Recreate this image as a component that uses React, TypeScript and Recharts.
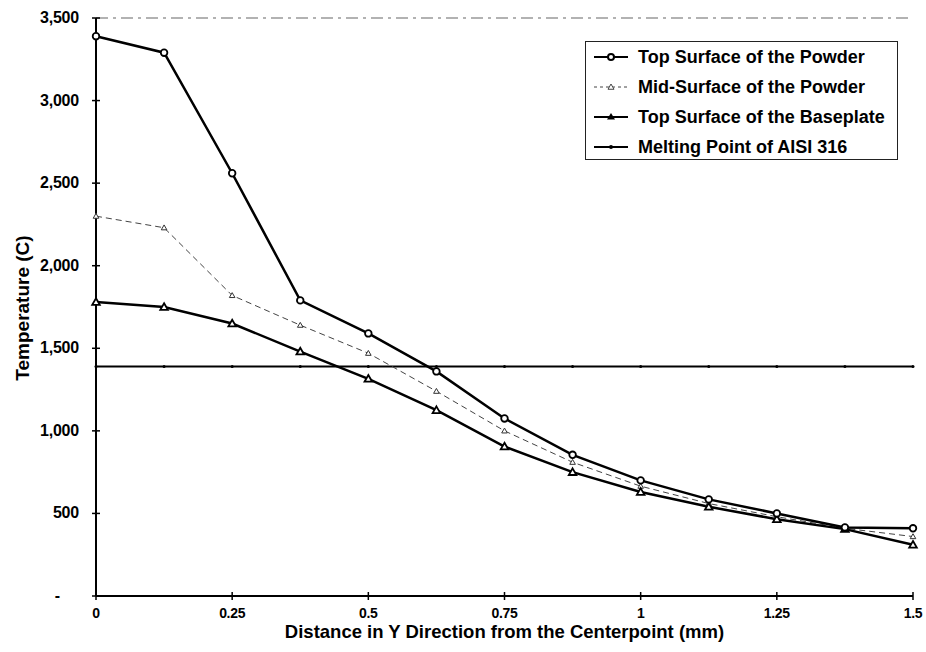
import { Label, Line, LineChart, ReferenceLine, XAxis, YAxis } from 'recharts';

const distance = [0, 0.125, 0.25, 0.375, 0.5, 0.625, 0.75, 0.875, 1, 1.125, 1.25, 1.375, 1.5];
const topPowder = [3390, 3290, 2560, 1790, 1590, 1360, 1075, 855, 700, 585, 500, 415, 410];
const midPowder = [2300, 2230, 1820, 1640, 1470, 1240, 1000, 810, 665, 560, 480, 410, 360];
const baseplate = [1780, 1750, 1650, 1480, 1315, 1125, 905, 750, 630, 540, 465, 405, 310];
const meltingPoint = [1390, 1390, 1390, 1390, 1390, 1390, 1390, 1390, 1390, 1390, 1390, 1390, 1390];

const xTicks = [0, 0.25, 0.5, 0.75, 1, 1.25, 1.5];
const yTicks = [0, 500, 1000, 1500, 2000, 2500, 3000, 3500];

const data = distance.map((d, i) => ({
    d,
    top: topPowder[i],
    mid: midPowder[i],
    base: baseplate[i],
    melt: meltingPoint[i],
}));

const FONT = '"Liberation Sans", Arial, sans-serif';

const YTick = (props: any) => {
    const { x, y, payload } = props;
    const v = payload.value;
    return (
        <g>
            <line x1={x - 4} x2={x + 4} y1={y} y2={y} stroke="#000" strokeWidth={1.5} />
            <text
                x={v === 0 ? x - 36 : x - 17}
                y={y}
                dy={5}
                textAnchor="end"
                fontFamily={FONT}
                fontWeight="bold"
                fontSize={16}
                letterSpacing={-0.2}
                fill="#000"
            >
                {v === 0 ? '-' : v.toLocaleString('en-US')}
            </text>
        </g>
    );
};

const XTick = (props: any) => {
    const { x, y, payload } = props;
    return (
        <g>
            <line x1={x} x2={x} y1={y - 4} y2={y + 4} stroke="#000" strokeWidth={1.5} />
            <text
                x={x}
                y={y}
                dy={22}
                textAnchor="middle"
                fontFamily={FONT}
                fontWeight="bold"
                fontSize={14}
                letterSpacing={-0.3}
                fill="#000"
            >
                {payload.value}
            </text>
        </g>
    );
};

const Circle = (props: any) => {
    const { cx, cy } = props;
    return <circle cx={cx} cy={cy} r={3.3} fill="#fff" stroke="#000" strokeWidth={1.8} />;
};

const Tri = ({ cx, cy, s, w, color }: any) => (
    <path
        d={`M${cx},${cy - s} L${cx + s},${cy + s * 0.75} L${cx - s},${cy + s * 0.75} Z`}
        fill="#fff"
        stroke={color}
        strokeWidth={w}
    />
);

const BaseMarker = (props: any) => <Tri cx={props.cx} cy={props.cy} s={3.8} w={1.8} color="#000" />;
const MidMarker = (props: any) => <Tri cx={props.cx} cy={props.cy} s={2.8} w={1} color="#333" />;
const Dot = (props: any) => <circle cx={props.cx} cy={props.cy} r={1.5} fill="#000" />;

const legendItems = [
    { name: 'Top Surface of the Powder', kind: 'circle' },
    { name: 'Mid-Surface of the Powder', kind: 'mid' },
    { name: 'Top Surface of the Baseplate', kind: 'tri' },
    { name: 'Melting Point of AISI 316', kind: 'dot' },
];

const LegendIcon = ({ kind }: { kind: string }) => {
    const dashed = kind === 'mid';
    return (
        <svg width={36} height={14}>
            <line
                x1={1}
                x2={35}
                y1={7}
                y2={7}
                stroke={dashed ? '#444' : '#000'}
                strokeWidth={dashed ? 1 : 2}
                strokeDasharray={dashed ? '3 3' : undefined}
            />
            {kind === 'circle' && <circle cx={18} cy={7} r={3} fill="#fff" stroke="#000" strokeWidth={2} />}
            {kind === 'mid' && <Tri cx={18} cy={7} s={3} w={1} color="#444" />}
            {kind === 'tri' && <path d="M18,3 L22,9.5 L14,9.5 Z" fill="#000" />}
            {kind === 'dot' && <circle cx={18} cy={7} r={2} fill="#000" />}
        </svg>
    );
};

export default function App() {
    return (
        <div style={{ position: 'absolute', left: 0, top: 0, width: 926, height: 652, background: '#fff' }}>
            <LineChart
                width={926}
                height={652}
                data={data}
                margin={{ top: 18, right: 13, bottom: 0, left: 0 }}
            >
                <XAxis
                    dataKey="d"
                    type="number"
                    domain={[0, 1.5]}
                    ticks={xTicks}
                    height={56}
                    tickSize={0}
                    tickMargin={0}
                    tick={<XTick />}
                    axisLine={{ stroke: '#000', strokeWidth: 2 }}
                    tickLine={false}
                >
                    <Label
                        value="Distance in Y Direction from the Centerpoint (mm)"
                        position="insideBottom"
                        offset={14}
                        style={{ fontFamily: FONT, fontWeight: 'bold', fontSize: 18.5, fill: '#000' }}
                    />
                </XAxis>
                <YAxis
                    type="number"
                    domain={[0, 3500]}
                    ticks={yTicks}
                    width={96}
                    tickSize={0}
                    tickMargin={0}
                    tick={<YTick />}
                    axisLine={{ stroke: '#000', strokeWidth: 2 }}
                    tickLine={false}
                    interval={0}
                >
                    <Label
                        content={() => (
                            <text
                                x={22}
                                y={308}
                                transform="rotate(-90, 22, 308)"
                                textAnchor="middle"
                                dominantBaseline="central"
                                fontFamily={FONT}
                                fontWeight="bold"
                                fontSize={19}
                                fill="#000"
                            >
                                Temperature (C)
                            </text>
                        )}
                    />
                </YAxis>
                <ReferenceLine y={3500} stroke="#666" strokeWidth={1.2} strokeDasharray="12 5 3 5" />
                <Line
                    dataKey="melt"
                    stroke="#000"
                    strokeWidth={2}
                    dot={<Dot />}
                    isAnimationActive={false}
                />
                <Line
                    dataKey="mid"
                    stroke="#444"
                    strokeWidth={1}
                    strokeDasharray="6 4"
                    dot={<MidMarker />}
                    isAnimationActive={false}
                />
                <Line
                    dataKey="base"
                    stroke="#000"
                    strokeWidth={2.5}
                    dot={<BaseMarker />}
                    isAnimationActive={false}
                />
                <Line
                    dataKey="top"
                    stroke="#000"
                    strokeWidth={2.5}
                    dot={<Circle />}
                    isAnimationActive={false}
                />
            </LineChart>
            <div
                style={{
                    position: 'absolute',
                    left: 585,
                    top: 41,
                    width: 311,
                    height: 117,
                    border: '1.5px solid #222',
                    background: '#fff',
                    fontFamily: FONT,
                    fontWeight: 'bold',
                    fontSize: 18,
                    letterSpacing: 0,
                    color: '#000',
                }}
            >
                {legendItems.map((it) => (
                    <div
                        key={it.name}
                        style={{ display: 'flex', alignItems: 'center', height: 30, paddingLeft: 7 }}
                    >
                        <LegendIcon kind={it.kind} />
                        <span style={{ marginLeft: 9, whiteSpace: 'nowrap' }}>{it.name}</span>
                    </div>
                ))}
            </div>
        </div>
    );
}
